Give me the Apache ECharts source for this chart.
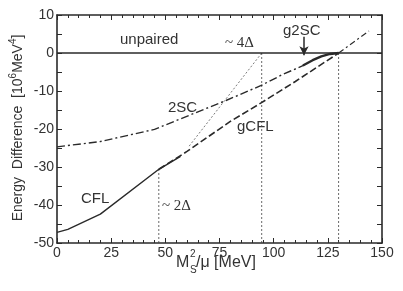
<!DOCTYPE html>
<html><head><meta charset="utf-8">
<script src="https://cdn.jsdelivr.net/npm/echarts@6/dist/echarts.min.js"></script>
<style>html,body{margin:0;padding:0;background:#fff}#c{width:403px;height:291px}</style>
</head><body><div id="c"></div>
<script>
var xTicks = [0, 25, 50, 75, 100, 125, 150];
var yTicks = [-50, -40, -30, -20, -10, 0, 10];
var unpaired = [[0, 0], [150, 0]];
var cfl = [[0, -47.2], [5, -46.4], [20, -42.4], [47, -30.6], [57, -27.2]];
var gcfl = [[47, -30.6], [60, -25.9], [80, -18.0], [94, -13.2], [110, -7.5], [130, 0]];
var beyond = [[130, 0], [144, 5.8]];
var twoSC = [[0, -24.7], [20, -23.3], [45, -20.1], [55, -17.8], [78, -12.5], [94, -8.6], [104, -5.7], [114, -3.2]];
var g2SC = [[113.5, -3.3], [118, -1.9], [122, -0.9], [126, -0.25], [130, 0]];
var guide2D = [[47, -50], [47, -30.6]];
var guide4D = [[94.5, -50], [94.5, 0]];
var guideEnd = [[130, -50], [130, 0]];
var diag = [[61, -24.5], [94.5, 0]];
var arrowFrom = [114, 4.3];
var arrowTo = [114, -0.6];

var ink = '#2a2a2a';
var font = 'Liberation Sans, Arial, sans-serif';
function line(data, type, width, color) {
  return {type: 'line', data: data, symbol: 'none', silent: true, animation: false,
    lineStyle: {type: type, width: width, color: color || ink}};
}
var chart = echarts.init(document.getElementById('c'), null, {renderer: 'canvas'});
var axX = {min: 0, max: 150, interval: 25, type: 'value'};
var axY = {min: -50, max: 10, interval: 10, type: 'value'};
function xa(pos, show) {
  return Object.assign({}, axX, {position: pos, splitLine: {show: false},
    axisLine: {onZero: false, lineStyle: {color: ink, width: 1.6}},
    axisTick: {inside: true, length: 5, lineStyle: {color: ink, width: 1}},
    minorTick: {show: true, splitNumber: 5, length: 3, lineStyle: {color: ink, width: 1}},
    axisLabel: {show: show, color: '#333', fontSize: 14, fontFamily: font, margin: 3,
      formatter: function (v) { return xTicks.indexOf(v) >= 0 ? String(v) : ''; }}});
}
function ya(pos, show) {
  return Object.assign({}, axY, {position: pos, splitLine: {show: false},
    axisLine: {onZero: false, lineStyle: {color: ink, width: 1.6}},
    axisTick: {inside: true, length: 5, lineStyle: {color: ink, width: 1}},
    minorTick: {show: true, splitNumber: 2, length: 5, lineStyle: {color: ink, width: 1}},
    axisLabel: {show: show, color: '#333', fontSize: 14, fontFamily: font, margin: 3,
      formatter: function (v) { return yTicks.indexOf(v) >= 0 ? String(v) : ''; }}});
}
var series = [
  line(guide2D, [2, 2], 0.8, '#444'),
  line(guide4D, [2, 2], 0.8, '#444'),
  line(guideEnd, [2, 2], 0.8, '#444'),
  line(diag, [2, 2], 0.7, '#444'),
  line(unpaired, 'solid', 1.5),
  line(twoSC, [8, 3, 2, 3], 1.4),
  line(cfl, 'solid', 1.4),
  line(gcfl, [7, 3], 1.6),
  line(beyond, [6, 3, 2, 3], 1.1),
  line(g2SC, 'solid', 2.4)
];
series.push({type: 'line', data: [], silent: true, animation: false,
  markLine: {silent: true, animation: false, symbol: ['none', 'arrow'], symbolSize: [7, 9],
    label: {show: false}, lineStyle: {type: 'solid', width: 1.5, color: ink},
    data: [[{coord: arrowFrom}, {coord: arrowTo}]]}});
var t = function (x, y, txt) {
  return {type: 'text', left: x, top: y, silent: true,
    style: {text: txt, fill: '#333', font: '15px ' + font}};
};
chart.setOption({
  animation: false,
  grid: {left: 57, right: 21, top: 15, bottom: 48},
  xAxis: [xa('bottom', true), xa('top', false)],
  yAxis: [ya('left', true), ya('right', false)],
  series: series,
  graphic: [
    t(120, 32, 'unpaired'),
    t(283, 23, 'g2SC'),
    t(168, 100, '2SC'),
    t(237, 119, 'gCFL'),
    t(81, 191, 'CFL'),
    {type: 'text', left: 225, top: 36, silent: true, style: {text: '~ 4Δ', fill: '#333', font: '15px Liberation Serif, serif'}},
    {type: 'text', left: 162, top: 199, silent: true, style: {text: '~ 2Δ', fill: '#333', font: '15px Liberation Serif, serif'}},
    {type: 'text', left: 176, top: 255, silent: true, style: {text: 'M', fill: '#333', font: '16px ' + font}},
    {type: 'text', left: 190, top: 249, silent: true, style: {text: '2', fill: '#333', font: '10px ' + font}},
    {type: 'text', left: 190, top: 265, silent: true, style: {text: 'S', fill: '#333', font: '10px ' + font}},
    {type: 'text', left: 196, top: 255, silent: true, style: {text: '/μ [MeV]', fill: '#333', font: '16px ' + font}},
    {type: 'text', x: 18, y: 128, rotation: Math.PI / 2, silent: true,
      style: {text: 'Energy  Difference  [10{s|6}MeV{s|4}]', fill: '#333', font: '14px ' + font,
        align: 'center', verticalAlign: 'middle',
        rich: {s: {fontSize: 10, fontFamily: font, fill: '#333', padding: [0, 0, 9, 0]}}}}
  ]
});
</script></body></html>
